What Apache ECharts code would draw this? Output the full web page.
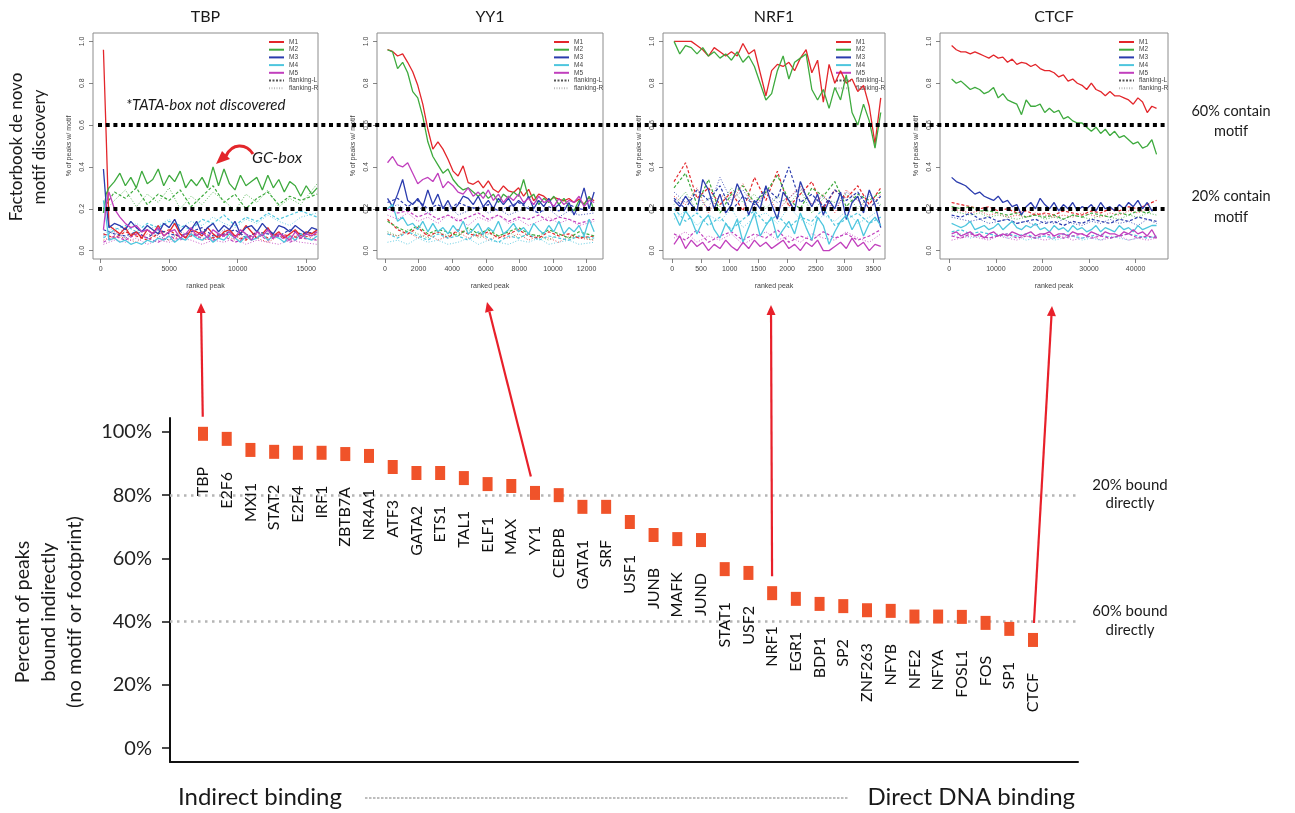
<!DOCTYPE html>
<html><head><meta charset="utf-8">
<script src="https://cdn.jsdelivr.net/npm/echarts@6/dist/echarts.min.js"></script>
<style>html,body{margin:0;padding:0;background:#fff}#c{width:1295px;height:813px}</style>
</head><body><div id="c"></div>
<script>
// ---------------- bottom chart data ----------------
const tfNames = ['TBP','E2F6','MXI1','STAT2','E2F4','IRF1','ZBTB7A','NR4A1','ATF3','GATA2','ETS1','TAL1','ELF1','MAX','YY1','CEBPB','GATA1','SRF','USF1','JUNB','MAFK','JUND','STAT1','USF2','NRF1','EGR1','BDP1','SP2','ZNF263','NFYB','NFE2','NFYA','FOSL1','FOS','SP1','CTCF'];
const tfIndirectPct = [99.4,97.8,94.3,93.7,93.4,93.4,93.0,92.4,88.9,87.0,87.0,85.4,83.5,82.9,80.7,80.0,76.3,76.3,71.5,67.4,66.1,65.8,56.6,55.4,49.0,47.2,45.6,44.9,43.6,43.4,41.6,41.6,41.5,39.6,37.7,34.2];
const pctTicks = [0,20,40,60,80,100];
const boundThresholds = [80,40];
const arrowedTFs = ['TBP','YY1','NRF1','CTCF'];

// ---------------- top panels data ----------------
const motifTicks = [0,0.2,0.4,0.6,0.8,1.0];
const motifThresholds = [0.6,0.2];
const legendNames = ['M1','M2','M3','M4','M5','flanking-L','flanking-R'];

// TBP
const tbpTicks = [0,5000,10000,15000];
const tbpPeak = [200,400,600,1000,1400,1800,2200,2600,3000,3400,3800,4200,4600,5000,5400,5800,6200,6600,7000,7400,7800,8200,8600,9000,9400,9800,10200,10600,11000,11400,11800,12200,12600,13000,13400,13800,14200,14600,15000,15400,15800];
const tbpM1 = [0.96,0.55,0.12,0.10,0.08,0.11,0.07,0.09,0.06,0.10,0.08,0.12,0.07,0.09,0.13,0.08,0.06,0.10,0.09,0.07,0.11,0.08,0.06,0.09,0.10,0.07,0.08,0.12,0.09,0.06,0.08,0.11,0.07,0.09,0.06,0.08,0.10,0.07,0.09,0.08,0.10];
const tbpM2 = [0.18,0.27,0.30,0.33,0.37,0.31,0.35,0.30,0.38,0.32,0.34,0.39,0.31,0.36,0.33,0.38,0.30,0.34,0.31,0.35,0.30,0.40,0.31,0.39,0.32,0.29,0.36,0.31,0.33,0.35,0.29,0.36,0.30,0.34,0.28,0.33,0.31,0.26,0.31,0.27,0.30];
const tbpM3 = [0.39,0.22,0.11,0.13,0.12,0.10,0.14,0.11,0.09,0.12,0.10,0.08,0.13,0.11,0.15,0.09,0.12,0.10,0.14,0.08,0.11,0.13,0.09,0.12,0.10,0.14,0.08,0.11,0.12,0.09,0.13,0.10,0.08,0.12,0.11,0.09,0.12,0.10,0.08,0.11,0.10];
const tbpM4 = [0.24,0.15,0.05,0.06,0.04,0.05,0.03,0.04,0.03,0.05,0.04,0.06,0.05,0.07,0.04,0.06,0.05,0.08,0.06,0.05,0.07,0.04,0.06,0.05,0.08,0.06,0.04,0.07,0.05,0.06,0.08,0.05,0.07,0.06,0.04,0.07,0.05,0.08,0.06,0.05,0.07];
const tbpM5 = [0.10,0.22,0.28,0.20,0.16,0.13,0.11,0.12,0.09,0.10,0.08,0.11,0.07,0.09,0.10,0.06,0.08,0.11,0.07,0.09,0.06,0.10,0.08,0.07,0.09,0.06,0.10,0.08,0.05,0.09,0.07,0.10,0.06,0.08,0.07,0.05,0.09,0.06,0.08,0.07,0.09];
const tbpFlankPeak = [200,1000,1800,2600,3400,4200,5000,5800,6600,7400,8200,9000,9800,10600,11400,12200,13000,13800,14600,15800];
const tbpL1 = [0.08,0.06,0.09,0.07,0.05,0.08,0.10,0.06,0.07,0.09,0.06,0.08,0.07,0.05,0.09,0.06,0.08,0.07,0.06,0.08];
const tbpL2 = [0.20,0.28,0.25,0.30,0.22,0.27,0.24,0.29,0.21,0.26,0.31,0.23,0.27,0.20,0.25,0.28,0.22,0.26,0.24,0.27];
const tbpL3 = [0.10,0.08,0.07,0.09,0.06,0.10,0.08,0.07,0.09,0.11,0.07,0.08,0.10,0.06,0.09,0.08,0.07,0.10,0.08,0.09];
const tbpL4 = [0.06,0.10,0.12,0.09,0.13,0.11,0.14,0.12,0.10,0.15,0.13,0.17,0.12,0.16,0.14,0.18,0.15,0.17,0.19,0.16];
const tbpL5 = [0.04,0.07,0.05,0.08,0.06,0.04,0.07,0.05,0.08,0.06,0.05,0.07,0.04,0.06,0.08,0.05,0.07,0.04,0.06,0.05];
const tbpR1 = [0.05,0.07,0.06,0.04,0.08,0.06,0.05,0.07,0.09,0.05,0.06,0.08,0.05,0.07,0.06,0.04,0.07,0.06,0.08,0.05];
const tbpR2 = [0.18,0.24,0.29,0.21,0.27,0.23,0.30,0.20,0.26,0.22,0.28,0.24,0.19,0.27,0.23,0.29,0.21,0.25,0.22,0.32];
const tbpR3 = [0.07,0.09,0.06,0.08,0.10,0.07,0.05,0.09,0.07,0.08,0.06,0.10,0.07,0.08,0.06,0.09,0.07,0.05,0.08,0.07];
const tbpR4 = [0.08,0.11,0.09,0.13,0.10,0.12,0.15,0.11,0.14,0.12,0.16,0.13,0.11,0.15,0.13,0.17,0.14,0.12,0.16,0.18];
const tbpR5 = [0.03,0.05,0.04,0.06,0.03,0.05,0.04,0.06,0.05,0.03,0.05,0.04,0.06,0.03,0.05,0.04,0.03,0.05,0.04,0.03];

// YY1
const yy1Ticks = [0,2000,4000,6000,8000,10000,12000];
const yy1Peak = [150,450,750,1050,1350,1650,1950,2250,2550,2850,3150,3450,3750,4050,4350,4650,4950,5250,5550,5850,6150,6450,6750,7050,7350,7650,7950,8250,8550,8850,9150,9450,9750,10050,10350,10650,10950,11250,11550,11850,12150,12450];
const yy1M1 = [0.96,0.952,0.93,0.94,0.90,0.855,0.79,0.70,0.58,0.485,0.52,0.485,0.437,0.38,0.357,0.405,0.325,0.317,0.333,0.30,0.333,0.293,0.278,0.309,0.285,0.278,0.30,0.26,0.293,0.238,0.27,0.26,0.238,0.254,0.246,0.238,0.249,0.23,0.246,0.222,0.254,0.238];
const yy1M2 = [0.96,0.95,0.87,0.90,0.85,0.76,0.73,0.64,0.52,0.45,0.41,0.37,0.39,0.34,0.31,0.29,0.30,0.28,0.26,0.28,0.25,0.27,0.23,0.27,0.25,0.28,0.26,0.34,0.25,0.27,0.22,0.25,0.23,0.26,0.22,0.25,0.21,0.19,0.24,0.22,0.26,0.19];
const yy1M3 = [0.25,0.21,0.27,0.34,0.24,0.22,0.25,0.21,0.29,0.22,0.27,0.20,0.24,0.19,0.22,0.26,0.25,0.22,0.26,0.21,0.24,0.20,0.25,0.22,0.25,0.21,0.24,0.22,0.26,0.20,0.24,0.21,0.25,0.20,0.22,0.19,0.23,0.17,0.22,0.30,0.20,0.28];
const yy1M4 = [0.20,0.22,0.14,0.16,0.12,0.13,0.10,0.14,0.09,0.13,0.09,0.11,0.08,0.12,0.09,0.14,0.08,0.10,0.13,0.08,0.11,0.09,0.14,0.08,0.10,0.13,0.09,0.11,0.08,0.13,0.10,0.08,0.12,0.09,0.14,0.08,0.11,0.09,0.12,0.07,0.15,0.09];
const yy1M5 = [0.42,0.45,0.41,0.40,0.42,0.37,0.32,0.34,0.35,0.33,0.37,0.30,0.33,0.31,0.28,0.27,0.30,0.26,0.28,0.25,0.29,0.24,0.27,0.23,0.26,0.24,0.27,0.23,0.25,0.22,0.26,0.23,0.24,0.21,0.25,0.22,0.24,0.23,0.26,0.21,0.24,0.23];
const yy1FlankPeak = [150,750,1350,1950,2550,3150,3750,4350,4950,5550,6150,6750,7350,7950,8550,9150,9750,10350,10950,11550,12450];
const yy1L1 = [0.15,0.10,0.08,0.11,0.07,0.09,0.06,0.10,0.08,0.07,0.09,0.06,0.08,0.10,0.07,0.06,0.09,0.07,0.08,0.06,0.07];
const yy1L2 = [0.14,0.11,0.09,0.12,0.08,0.10,0.09,0.07,0.11,0.08,0.10,0.07,0.09,0.11,0.08,0.07,0.10,0.08,0.06,0.09,0.07];
const yy1L3 = [0.23,0.25,0.21,0.24,0.20,0.22,0.19,0.23,0.21,0.20,0.22,0.19,0.21,0.23,0.20,0.18,0.21,0.19,0.22,0.20,0.19];
const yy1L4 = [0.08,0.06,0.09,0.07,0.05,0.08,0.06,0.07,0.05,0.09,0.06,0.04,0.07,0.06,0.08,0.05,0.07,0.06,0.05,0.07,0.06];
const yy1L5 = [0.20,0.18,0.19,0.16,0.18,0.15,0.17,0.14,0.16,0.18,0.15,0.17,0.14,0.16,0.15,0.17,0.14,0.16,0.15,0.13,0.15];
const yy1R1 = [0.08,0.07,0.09,0.06,0.08,0.05,0.07,0.09,0.06,0.08,0.05,0.07,0.06,0.08,0.05,0.07,0.06,0.04,0.07,0.06,0.05];
const yy1R2 = [0.09,0.07,0.10,0.08,0.06,0.09,0.07,0.08,0.10,0.06,0.08,0.07,0.09,0.06,0.08,0.07,0.05,0.08,0.06,0.07,0.05];
const yy1R3 = [0.20,0.22,0.19,0.21,0.18,0.20,0.22,0.17,0.19,0.21,0.18,0.20,0.17,0.19,0.21,0.18,0.20,0.16,0.19,0.17,0.18];
const yy1R4 = [0.04,0.05,0.03,0.06,0.04,0.05,0.03,0.04,0.06,0.03,0.05,0.04,0.03,0.05,0.04,0.06,0.03,0.04,0.05,0.03,0.04];
const yy1R5 = [0.17,0.15,0.18,0.14,0.16,0.13,0.17,0.15,0.12,0.16,0.14,0.17,0.13,0.15,0.12,0.14,0.16,0.13,0.15,0.12,0.14];

// NRF1
const nrf1Ticks = [0,500,1000,1500,2000,2500,3000,3500];
const nrf1Peak = [30,130,230,330,430,530,630,730,830,930,1030,1130,1230,1330,1430,1530,1630,1730,1830,1930,2030,2130,2230,2330,2430,2530,2630,2730,2830,2930,3030,3130,3230,3330,3430,3530,3630];
const nrf1M1 = [1.0,1.0,1.0,1.0,0.98,0.96,0.93,0.97,0.95,0.93,0.95,0.93,0.99,0.94,0.96,0.85,0.74,0.86,0.89,0.88,0.90,0.86,0.92,0.96,0.85,0.91,0.71,0.89,0.80,0.86,0.80,0.82,0.76,0.79,0.69,0.51,0.73];
const nrf1M2 = [1.0,0.94,0.98,0.97,0.94,0.97,0.93,0.95,0.92,0.94,0.91,0.95,0.90,0.93,0.88,0.80,0.72,0.75,0.86,0.93,0.82,0.90,0.92,0.94,0.77,0.72,0.77,0.68,0.78,0.72,0.84,0.66,0.60,0.70,0.62,0.49,0.66];
const nrf1M3 = [0.24,0.21,0.26,0.22,0.19,0.34,0.29,0.20,0.27,0.18,0.22,0.32,0.26,0.17,0.24,0.20,0.31,0.22,0.15,0.28,0.24,0.19,0.33,0.26,0.21,0.27,0.17,0.24,0.20,0.28,0.15,0.23,0.26,0.18,0.29,0.22,0.11];
const nrf1M4 = [0.18,0.12,0.19,0.15,0.08,0.14,0.17,0.10,0.06,0.13,0.09,0.15,0.04,0.11,0.18,0.07,0.12,0.16,0.06,0.10,0.14,0.08,0.18,0.11,0.05,0.16,0.12,0.03,0.09,0.14,0.17,0.10,0.15,0.07,0.13,0.16,0.12];
const nrf1M5 = [0.03,0.07,0.01,0.05,0.02,0.04,0.00,0.03,0.01,0.05,0.02,0.00,0.04,0.01,0.05,0.02,0.04,0.01,0.03,0.05,0.01,0.03,0.00,0.04,0.02,0.05,0.00,0.00,0.02,0.04,0.01,0.06,0.02,0.04,0.00,0.03,0.02];
const nrf1FlankPeak = [30,230,430,630,830,1030,1230,1430,1630,1830,2030,2230,2430,2630,2830,3030,3230,3430,3630];
const nrf1L1 = [0.33,0.42,0.25,0.30,0.22,0.28,0.19,0.35,0.24,0.38,0.21,0.27,0.33,0.20,0.29,0.25,0.31,0.22,0.30];
const nrf1L2 = [0.30,0.37,0.22,0.34,0.18,0.27,0.31,0.23,0.28,0.36,0.24,0.20,0.30,0.26,0.33,0.21,0.27,0.24,0.28];
const nrf1L3 = [0.25,0.20,0.29,0.24,0.31,0.19,0.26,0.22,0.30,0.25,0.40,0.23,0.27,0.21,0.29,0.24,0.28,0.20,0.26];
const nrf1L4 = [0.20,0.14,0.18,0.12,0.16,0.10,0.15,0.19,0.13,0.17,0.11,0.16,0.14,0.20,0.12,0.15,0.18,0.13,0.16];
const nrf1L5 = [0.08,0.05,0.10,0.04,0.07,0.09,0.05,0.08,0.06,0.10,0.04,0.07,0.05,0.09,0.06,0.08,0.05,0.07,0.10];
const nrf1R1 = [0.26,0.22,0.30,0.18,0.27,0.23,0.32,0.21,0.28,0.19,0.25,0.31,0.22,0.27,0.18,0.29,0.24,0.20,0.27];
const nrf1R2 = [0.22,0.28,0.19,0.25,0.21,0.30,0.23,0.27,0.20,0.26,0.22,0.29,0.18,0.25,0.23,0.27,0.20,0.26,0.22];
const nrf1R3 = [0.28,0.23,0.26,0.20,0.35,0.24,0.29,0.21,0.27,0.23,0.25,0.30,0.22,0.26,0.20,0.28,0.24,0.27,0.21];
const nrf1R4 = [0.15,0.19,0.12,0.17,0.14,0.20,0.11,0.16,0.18,0.13,0.21,0.15,0.12,0.17,0.14,0.19,0.13,0.16,0.20];
const nrf1R5 = [0.06,0.09,0.04,0.07,0.05,0.08,0.03,0.06,0.09,0.05,0.07,0.04,0.08,0.06,0.05,0.09,0.06,0.04,0.08];

// CTCF
const ctcfTicks = [0,10000,20000,30000,40000];
const ctcfPeak = [500,1500,2500,3500,4500,5500,6500,7500,8500,9500,10500,11500,12500,13500,14500,15500,16500,17500,18500,19500,20500,21500,22500,23500,24500,25500,26500,27500,28500,29500,30500,31500,32500,33500,34500,35500,36500,37500,38500,39500,40500,41500,42500,43500,44500];
const ctcfM1 = [0.98,0.96,0.95,0.95,0.94,0.95,0.94,0.93,0.92,0.935,0.92,0.925,0.90,0.915,0.89,0.90,0.895,0.88,0.89,0.87,0.86,0.86,0.85,0.83,0.84,0.81,0.82,0.80,0.79,0.77,0.80,0.77,0.76,0.74,0.76,0.74,0.74,0.73,0.72,0.70,0.73,0.71,0.66,0.69,0.68];
const ctcfM2 = [0.82,0.80,0.81,0.79,0.77,0.78,0.77,0.75,0.76,0.78,0.73,0.75,0.72,0.71,0.70,0.65,0.72,0.69,0.69,0.70,0.66,0.68,0.66,0.67,0.63,0.64,0.62,0.61,0.61,0.59,0.57,0.59,0.56,0.58,0.55,0.57,0.54,0.55,0.53,0.51,0.52,0.49,0.50,0.53,0.46];
const ctcfM3 = [0.35,0.33,0.32,0.31,0.29,0.27,0.28,0.26,0.25,0.24,0.26,0.23,0.24,0.21,0.22,0.17,0.21,0.23,0.20,0.25,0.22,0.20,0.23,0.19,0.22,0.20,0.23,0.19,0.21,0.20,0.22,0.19,0.23,0.20,0.21,0.19,0.22,0.20,0.23,0.21,0.24,0.20,0.23,0.19,0.21];
const ctcfM4 = [0.13,0.12,0.11,0.12,0.14,0.10,0.11,0.12,0.10,0.11,0.13,0.10,0.12,0.14,0.11,0.10,0.12,0.11,0.13,0.10,0.11,0.09,0.12,0.10,0.11,0.09,0.12,0.10,0.11,0.09,0.10,0.12,0.09,0.11,0.10,0.09,0.12,0.10,0.11,0.09,0.12,0.10,0.11,0.12,0.12];
const ctcfM5 = [0.08,0.09,0.07,0.08,0.09,0.07,0.08,0.06,0.08,0.09,0.07,0.08,0.07,0.09,0.08,0.07,0.08,0.09,0.07,0.08,0.08,0.09,0.07,0.08,0.08,0.07,0.09,0.08,0.08,0.07,0.09,0.08,0.07,0.09,0.08,0.08,0.07,0.09,0.08,0.10,0.08,0.09,0.07,0.10,0.06];
const ctcfFlankPeak = [500,2500,4500,6500,8500,10500,12500,14500,16500,18500,20500,22500,24500,26500,28500,30500,32500,34500,36500,38500,40500,42500,44500];
const ctcfL1 = [0.23,0.22,0.21,0.20,0.21,0.19,0.20,0.18,0.19,0.17,0.18,0.17,0.19,0.18,0.17,0.19,0.18,0.20,0.19,0.21,0.20,0.22,0.24];
const ctcfL2 = [0.21,0.20,0.21,0.19,0.19,0.18,0.17,0.18,0.16,0.17,0.16,0.17,0.15,0.17,0.16,0.18,0.17,0.16,0.18,0.17,0.19,0.18,0.20];
const ctcfL3 = [0.17,0.16,0.18,0.15,0.16,0.14,0.15,0.13,0.14,0.15,0.13,0.14,0.12,0.14,0.13,0.15,0.14,0.13,0.15,0.14,0.16,0.15,0.14];
const ctcfL4 = [0.09,0.10,0.08,0.09,0.08,0.07,0.08,0.07,0.08,0.06,0.07,0.06,0.08,0.07,0.06,0.07,0.08,0.06,0.07,0.08,0.07,0.06,0.07];
const ctcfL5 = [0.07,0.06,0.08,0.07,0.06,0.07,0.08,0.06,0.07,0.06,0.08,0.07,0.06,0.07,0.08,0.06,0.07,0.06,0.07,0.08,0.06,0.07,0.06];
const ctcfR1 = [0.20,0.19,0.18,0.19,0.17,0.18,0.16,0.17,0.16,0.18,0.17,0.16,0.17,0.16,0.18,0.17,0.16,0.18,0.17,0.19,0.18,0.20,0.19];
const ctcfR2 = [0.19,0.18,0.17,0.18,0.16,0.17,0.16,0.15,0.16,0.17,0.15,0.16,0.15,0.17,0.16,0.15,0.17,0.16,0.15,0.17,0.16,0.18,0.17];
const ctcfR3 = [0.16,0.15,0.14,0.15,0.13,0.14,0.15,0.13,0.14,0.12,0.14,0.13,0.15,0.13,0.12,0.14,0.13,0.15,0.13,0.14,0.12,0.15,0.13];
const ctcfR4 = [0.07,0.08,0.06,0.07,0.06,0.08,0.06,0.07,0.05,0.06,0.07,0.05,0.06,0.07,0.05,0.06,0.05,0.07,0.06,0.05,0.06,0.07,0.06];
const ctcfR5 = [0.05,0.06,0.07,0.06,0.05,0.07,0.06,0.05,0.07,0.06,0.05,0.06,0.07,0.05,0.06,0.07,0.05,0.06,0.07,0.05,0.06,0.05,0.06];

// ---------------- build ----------------
const COLORS = ['#e3262b','#3eaa3e','#2b3cae','#4ec6de','#c13fbd'];
const FONT = 'Lato, "Open Sans", sans-serif';
const RFONT = '"Liberation Sans", Arial, sans-serif';
const zip = (xs, ys) => xs.map((x, i) => [x, ys[i]]);

const panels = [
  {title:'TBP',  left:93,  width:225, min:-562,  max:15861, ticks:tbpTicks,  x:tbpPeak,  M:[tbpM1,tbpM2,tbpM3,tbpM4,tbpM5],   fx:tbpFlankPeak,  L:[tbpL1,tbpL2,tbpL3,tbpL4,tbpL5],   R:[tbpR1,tbpR2,tbpR3,tbpR4,tbpR5]},
  {title:'YY1',  left:377, width:226, min:-476,  max:12976, ticks:yy1Ticks,  x:yy1Peak,  M:[yy1M1,yy1M2,yy1M3,yy1M4,yy1M5],   fx:yy1FlankPeak,  L:[yy1L1,yy1L2,yy1L3,yy1L4,yy1L5],   R:[yy1R1,yy1R2,yy1R3,yy1R4,yy1R5]},
  {title:'NRF1', left:663, width:222, min:-162,  max:3704,  ticks:nrf1Ticks, x:nrf1Peak, M:[nrf1M1,nrf1M2,nrf1M3,nrf1M4,nrf1M5], fx:nrf1FlankPeak, L:[nrf1L1,nrf1L2,nrf1L3,nrf1L4,nrf1L5], R:[nrf1R1,nrf1R2,nrf1R3,nrf1R4,nrf1R5]},
  {title:'CTCF', left:940, width:228, min:-1997, max:46962, ticks:ctcfTicks, x:ctcfPeak, M:[ctcfM1,ctcfM2,ctcfM3,ctcfM4,ctcfM5], fx:ctcfFlankPeak, L:[ctcfL1,ctcfL2,ctcfL3,ctcfL4,ctcfL5], R:[ctcfR1,ctcfR2,ctcfR3,ctcfR4,ctcfR5]}
];
const PTOP = 33, PH = 226;

const grid = [], xAxis = [], yAxis = [], series = [], legend = [], graphic = [];

panels.forEach((p, i) => {
  grid.push({left:p.left, top:PTOP, width:p.width, height:PH, show:true, borderColor:'#8c8c8c', borderWidth:1, backgroundColor:'transparent'});
  xAxis.push({type:'value', gridIndex:i, min:p.min, max:p.max,
    axisLine:{show:false, onZero:false}, splitLine:{show:false},
    axisTick:{show:true, length:4, lineStyle:{color:'#666', width:0.8}, customValues:p.ticks},
    axisLabel:{customValues:p.ticks, fontSize:7, color:'#444', margin:7, fontFamily:RFONT, formatter:v => String(v)},
    name:'ranked peak', nameLocation:'middle', nameGap:24, nameTextStyle:{fontSize:7, color:'#444', fontFamily:RFONT}});
  yAxis.push({type:'value', gridIndex:i, min:-0.04, max:1.04,
    axisLine:{show:false, onZero:false}, splitLine:{show:false},
    axisTick:{show:true, length:4, lineStyle:{color:'#666', width:0.8}, customValues:motifTicks},
    axisLabel:{customValues:motifTicks, rotate:90, fontSize:7, color:'#444', margin:7, fontFamily:RFONT, formatter:v => v.toFixed(1)},
    name:'% of peaks w/ motif', nameLocation:'middle', nameGap:20, nameTextStyle:{fontSize:7, color:'#444', fontFamily:RFONT}});
  const common = {type:'line', xAxisIndex:i, yAxisIndex:i, symbol:'none', showSymbol:false, silent:true, animation:false};
  for (let j = 0; j < 5; j++) {
    series.push(Object.assign({}, common, {name:'flankR', data:zip(p.fx, p.R[j]), z:2,
      lineStyle:{color:COLORS[j], width:1, type:[1,1.8], opacity:0.85}}));
  }
  for (let j = 0; j < 5; j++) {
    series.push(Object.assign({}, common, {name:'flankL', data:zip(p.fx, p.L[j]), z:3,
      lineStyle:{color:COLORS[j], width:1.2, type:[3,2]}}));
  }
  for (let j = 0; j < 5; j++) {
    series.push(Object.assign({}, common, {name:'M' + (j + 1), data:zip(p.x, p.M[j]), z:4,
      itemStyle:{color:COLORS[j]}, lineStyle:{color:COLORS[j], width:1.3}}));
  }
  legend.push({orient:'vertical', left:p.left + p.width - 50, top:38.5, padding:0,
    itemWidth:15, itemHeight:7, itemGap:0.7, selectedMode:false,
    itemStyle:{opacity:0, borderWidth:0},
    textStyle:{fontSize:6.5, lineHeight:7, color:'#444', fontFamily:RFONT},
    data:legendNames});
  graphic.push({type:'text', x:p.left + p.width / 2, y:17, style:{text:p.title, font:'16px ' + FONT, fill:'#1a1a1a', align:'center', verticalAlign:'middle'}});
});
// legend-only entries for flanking styles
series.push({type:'line', name:'flanking-L', xAxisIndex:0, yAxisIndex:0, data:[], symbol:'none', itemStyle:{color:'#555'}, lineStyle:{color:'#555', width:1, type:[2,1.5]}});
series.push({type:'line', name:'flanking-R', xAxisIndex:0, yAxisIndex:0, data:[], symbol:'none', itemStyle:{color:'#bbb'}, lineStyle:{color:'#bbb', width:1, type:[1,1.5]}});

// grid 4: long dotted threshold lines across the panels
grid.push({left:98, top:PTOP, width:1070, height:PH, show:false});
xAxis.push({type:'value', gridIndex:4, min:0, max:1, show:false});
yAxis.push({type:'value', gridIndex:4, min:-0.04, max:1.04, show:false});
series.push({type:'line', xAxisIndex:4, yAxisIndex:4, data:[], silent:true, z:6,
  markLine:{silent:true, symbol:'none', label:{show:false}, animation:false,
    lineStyle:{color:'#000', width:4, type:[4,3.7], cap:'butt'},
    data:motifThresholds.map(v => ({yAxis:v}))}});

// grid 5: bottom axes
grid.push({left:170, right:217, top:418, bottom:51, show:false});
xAxis.push({type:'value', gridIndex:5, min:0, max:1, axisLine:{show:true, onZero:false, lineStyle:{color:'#111', width:2}}, axisTick:{show:false}, axisLabel:{show:false}, splitLine:{show:false}});
yAxis.push({type:'value', gridIndex:5, min:-4.4, max:104.4, splitLine:{show:false},
  axisLine:{show:true, onZero:false, lineStyle:{color:'#111', width:2}},
  axisTick:{show:true, length:8, lineStyle:{color:'#111', width:1.5}, customValues:pctTicks},
  axisLabel:{customValues:pctTicks, formatter:v => v + '%', fontSize:20, color:'#222', fontFamily:FONT, margin:18}});
series.push({type:'line', xAxisIndex:5, yAxisIndex:5, data:[], silent:true,
  markLine:{silent:true, symbol:'none', label:{show:false}, animation:false,
    lineStyle:{color:'#b5b5b5', width:2.5, type:[2.5,4.5]},
    data:boundThresholds.map(v => ({yAxis:v}))}});

// grid 6: category markers
grid.push({left:191.15, width:853.7, top:418, bottom:51, show:false});
xAxis.push({type:'category', gridIndex:6, data:tfNames, show:false});
yAxis.push({type:'value', gridIndex:6, min:-4.4, max:104.4, show:false});
const scatterIndex = series.length;
series.push({type:'scatter', xAxisIndex:6, yAxisIndex:6, data:tfIndirectPct, symbol:'rect', symbolSize:[10,14], z:5,
  itemStyle:{color:'#f0532a', opacity:1}, animation:false,
  label:{show:true, position:'bottom', distance:26, rotate:90, align:'right', verticalAlign:'middle',
    formatter:p => p.name, fontSize:16, fontFamily:FONT, color:'#111'}});

// static texts
const T = (x, y, text, size, opts) => Object.assign({type:'text', x, y, style:Object.assign({text, font:size + 'px ' + FONT, fill:'#1a1a1a', align:'center', verticalAlign:'middle'}, (opts || {}).style || {})}, (opts || {}).el || {});
graphic.push(T(17, 147, 'Factorbook de novo', 17, {el:{rotation:Math.PI / 2}}));
graphic.push(T(40, 147, 'motif discovery', 17, {el:{rotation:Math.PI / 2}}));
graphic.push(T(1231, 111, '60% contain', 14.5));
graphic.push(T(1231, 131, 'motif', 14.5));
graphic.push(T(1231, 196, '20% contain', 14.5));
graphic.push(T(1231, 217, 'motif', 14.5));
graphic.push(T(126, 105, '*TATA-box not discovered', 15, {style:{align:'left', font:'italic 15px ' + FONT}}));
graphic.push(T(252, 158, 'GC-box', 16, {style:{align:'left', font:'italic 16px ' + FONT}}));
graphic.push({type:'bezierCurve', shape:{x1:253, y1:154, x2:226, y2:156, cpx1:246, cpy1:143, cpx2:232, cpy2:143}, style:{stroke:'#e3262b', lineWidth:3, fill:null}, z:10});
graphic.push({type:'polygon', shape:{points:[[216,164],[222,151],[230,159]]}, style:{fill:'#e3262b'}, z:10});
graphic.push(T(23, 612, 'Percent of peaks', 19.5, {el:{rotation:Math.PI / 2}}));
graphic.push(T(49, 612, 'bound indirectly', 19.5, {el:{rotation:Math.PI / 2}}));
graphic.push(T(75, 612, '(no motif or footprint)', 20, {el:{rotation:Math.PI / 2}}));
graphic.push(T(1130, 485, '20% bound', 15));
graphic.push(T(1130, 503, 'directly', 15));
graphic.push(T(1130, 611, '60% bound', 15));
graphic.push(T(1130, 630, 'directly', 15));
graphic.push(T(178, 797, 'Indirect binding', 24, {style:{align:'left'}}));
graphic.push(T(1075, 797, 'Direct DNA binding', 24, {style:{align:'right'}}));
graphic.push({type:'line', shape:{x1:365, y1:798, x2:848, y2:798}, style:{stroke:'#bdbdbd', lineWidth:2, lineDash:[2.5,1.5]}});

const chart = echarts.init(document.getElementById('c'), null, {renderer:'canvas'});
chart.setOption({animation:false, backgroundColor:'#fff', grid, xAxis, yAxis, series, legend, graphic});

// red arrows from chosen markers to their panels
const arrowTips = [[201,303],[487,302],[771,305],[1052,306]];
const arrows = [];
arrowedTFs.forEach((name, k) => {
  const idx = tfNames.indexOf(name);
  const m = chart.convertToPixel({seriesIndex:scatterIndex}, [idx, tfIndirectPct[idx]]);
  const [tx, ty] = arrowTips[k];
  const dx = tx - m[0], dy = ty - m[1], len = Math.hypot(dx, dy);
  const ux = dx / len, uy = dy / len;
  const sx = m[0] + ux * 17, sy = m[1] + uy * 17;
  const bx = tx - ux * 10, by = ty - uy * 10;
  arrows.push({type:'line', shape:{x1:sx, y1:sy, x2:bx, y2:by}, style:{stroke:'#e8202a', lineWidth:2.2}, z:20});
  arrows.push({type:'polygon', shape:{points:[[tx, ty],[bx - uy * 4.5, by + ux * 4.5],[bx + uy * 4.5, by - ux * 4.5]]}, style:{fill:'#e8202a'}, z:20});
});
chart.setOption({graphic:graphic.concat(arrows)});
</script></body></html>
